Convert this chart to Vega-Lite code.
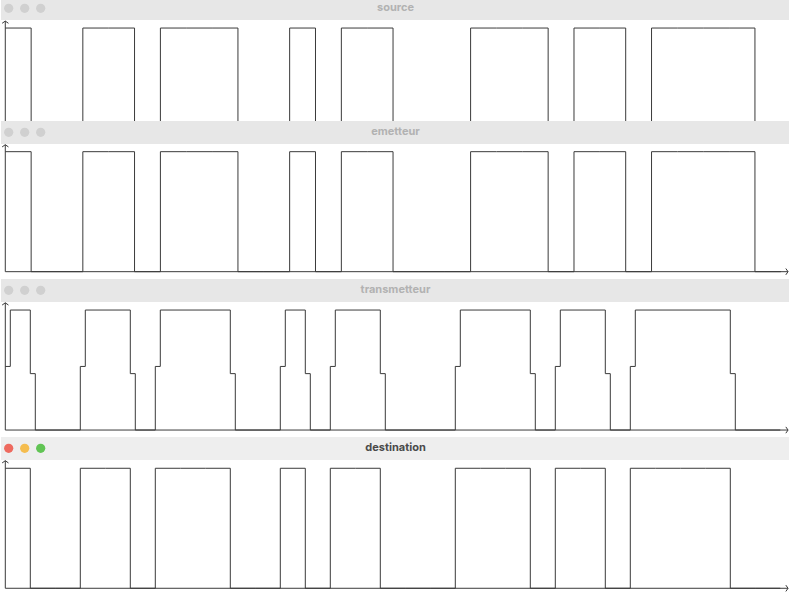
{
  "$schema": "https://vega.github.io/schema/vega-lite/v6.json",
  "padding": 0,
  "spacing": 0,
  "bounds": "flush",
  "background": "white",
  "config": {"view": {"stroke": null}, "concat": {"spacing": 0}},
  "resolve": {"scale": {"x": "independent", "y": "independent", "color": "independent"}},
  "datasets": {
    "windows": [{"window": "source"}, {"window": "emetteur"}, {"window": "transmetteur"}, {"window": "destination"}],
    "buttons": [{"button": "close", "slot": 1}, {"button": "minimize", "slot": 2}, {"button": "zoom", "slot": 3}],
    "signals": [
      {"panel": "source", "t": 0, "v": 1}, {"panel": "source", "t": 1, "v": 0}, {"panel": "source", "t": 2, "v": 0}, {"panel": "source", "t": 3, "v": 1}, {"panel": "source", "t": 4, "v": 1}, {"panel": "source", "t": 5, "v": 0}, {"panel": "source", "t": 6, "v": 1}, {"panel": "source", "t": 7, "v": 1}, {"panel": "source", "t": 8, "v": 1}, {"panel": "source", "t": 9, "v": 0}, {"panel": "source", "t": 10, "v": 0}, {"panel": "source", "t": 11, "v": 1}, {"panel": "source", "t": 12, "v": 0}, {"panel": "source", "t": 13, "v": 1}, {"panel": "source", "t": 14, "v": 1}, {"panel": "source", "t": 15, "v": 0}, {"panel": "source", "t": 16, "v": 0}, {"panel": "source", "t": 17, "v": 0}, {"panel": "source", "t": 18, "v": 1}, {"panel": "source", "t": 19, "v": 1}, {"panel": "source", "t": 20, "v": 1}, {"panel": "source", "t": 21, "v": 0}, {"panel": "source", "t": 22, "v": 1}, {"panel": "source", "t": 23, "v": 1}, {"panel": "source", "t": 24, "v": 0}, {"panel": "source", "t": 25, "v": 1}, {"panel": "source", "t": 26, "v": 1}, {"panel": "source", "t": 27, "v": 1}, {"panel": "source", "t": 28, "v": 1}, {"panel": "source", "t": 29, "v": 0}, {"panel": "source", "t": 30, "v": 0},
      {"panel": "emetteur", "t": 0, "v": 1}, {"panel": "emetteur", "t": 1, "v": 0}, {"panel": "emetteur", "t": 2, "v": 0}, {"panel": "emetteur", "t": 3, "v": 1}, {"panel": "emetteur", "t": 4, "v": 1}, {"panel": "emetteur", "t": 5, "v": 0}, {"panel": "emetteur", "t": 6, "v": 1}, {"panel": "emetteur", "t": 7, "v": 1}, {"panel": "emetteur", "t": 8, "v": 1}, {"panel": "emetteur", "t": 9, "v": 0}, {"panel": "emetteur", "t": 10, "v": 0}, {"panel": "emetteur", "t": 11, "v": 1}, {"panel": "emetteur", "t": 12, "v": 0}, {"panel": "emetteur", "t": 13, "v": 1}, {"panel": "emetteur", "t": 14, "v": 1}, {"panel": "emetteur", "t": 15, "v": 0}, {"panel": "emetteur", "t": 16, "v": 0}, {"panel": "emetteur", "t": 17, "v": 0}, {"panel": "emetteur", "t": 18, "v": 1}, {"panel": "emetteur", "t": 19, "v": 1}, {"panel": "emetteur", "t": 20, "v": 1}, {"panel": "emetteur", "t": 21, "v": 0}, {"panel": "emetteur", "t": 22, "v": 1}, {"panel": "emetteur", "t": 23, "v": 1}, {"panel": "emetteur", "t": 24, "v": 0}, {"panel": "emetteur", "t": 25, "v": 1}, {"panel": "emetteur", "t": 26, "v": 1}, {"panel": "emetteur", "t": 27, "v": 1}, {"panel": "emetteur", "t": 28, "v": 1}, {"panel": "emetteur", "t": 29, "v": 0}, {"panel": "emetteur", "t": 30, "v": 0},
      {"panel": "transmetteur", "t": 0, "v": 0.53}, {"panel": "transmetteur", "t": 0.2, "v": 1}, {"panel": "transmetteur", "t": 1, "v": 0.47}, {"panel": "transmetteur", "t": 1.2, "v": 0},
      {"panel": "transmetteur", "t": 3, "v": 0.53}, {"panel": "transmetteur", "t": 3.2, "v": 1}, {"panel": "transmetteur", "t": 5, "v": 0.47}, {"panel": "transmetteur", "t": 5.2, "v": 0},
      {"panel": "transmetteur", "t": 6, "v": 0.53}, {"panel": "transmetteur", "t": 6.2, "v": 1}, {"panel": "transmetteur", "t": 9, "v": 0.47}, {"panel": "transmetteur", "t": 9.2, "v": 0},
      {"panel": "transmetteur", "t": 11, "v": 0.53}, {"panel": "transmetteur", "t": 11.2, "v": 1}, {"panel": "transmetteur", "t": 12, "v": 0.47}, {"panel": "transmetteur", "t": 12.2, "v": 0},
      {"panel": "transmetteur", "t": 13, "v": 0.53}, {"panel": "transmetteur", "t": 13.2, "v": 1}, {"panel": "transmetteur", "t": 15, "v": 0.47}, {"panel": "transmetteur", "t": 15.2, "v": 0},
      {"panel": "transmetteur", "t": 18, "v": 0.53}, {"panel": "transmetteur", "t": 18.2, "v": 1}, {"panel": "transmetteur", "t": 21, "v": 0.47}, {"panel": "transmetteur", "t": 21.2, "v": 0},
      {"panel": "transmetteur", "t": 22, "v": 0.53}, {"panel": "transmetteur", "t": 22.2, "v": 1}, {"panel": "transmetteur", "t": 24, "v": 0.47}, {"panel": "transmetteur", "t": 24.2, "v": 0},
      {"panel": "transmetteur", "t": 25, "v": 0.53}, {"panel": "transmetteur", "t": 25.2, "v": 1}, {"panel": "transmetteur", "t": 29, "v": 0.47}, {"panel": "transmetteur", "t": 29.2, "v": 0},
      {"panel": "transmetteur", "t": 31, "v": 0},
      {"panel": "destination", "t": 0, "v": 1}, {"panel": "destination", "t": 1, "v": 0}, {"panel": "destination", "t": 2, "v": 0}, {"panel": "destination", "t": 3, "v": 1}, {"panel": "destination", "t": 4, "v": 1}, {"panel": "destination", "t": 5, "v": 0}, {"panel": "destination", "t": 6, "v": 1}, {"panel": "destination", "t": 7, "v": 1}, {"panel": "destination", "t": 8, "v": 1}, {"panel": "destination", "t": 9, "v": 0}, {"panel": "destination", "t": 10, "v": 0}, {"panel": "destination", "t": 11, "v": 1}, {"panel": "destination", "t": 12, "v": 0}, {"panel": "destination", "t": 13, "v": 1}, {"panel": "destination", "t": 14, "v": 1}, {"panel": "destination", "t": 15, "v": 0}, {"panel": "destination", "t": 16, "v": 0}, {"panel": "destination", "t": 17, "v": 0}, {"panel": "destination", "t": 18, "v": 1}, {"panel": "destination", "t": 19, "v": 1}, {"panel": "destination", "t": 20, "v": 1}, {"panel": "destination", "t": 21, "v": 0}, {"panel": "destination", "t": 22, "v": 1}, {"panel": "destination", "t": 23, "v": 1}, {"panel": "destination", "t": 24, "v": 0}, {"panel": "destination", "t": 25, "v": 1}, {"panel": "destination", "t": 26, "v": 1}, {"panel": "destination", "t": 27, "v": 1}, {"panel": "destination", "t": 28, "v": 1}, {"panel": "destination", "t": 29, "v": 0}, {"panel": "destination", "t": 30, "v": 0}, {"panel": "destination", "t": 31, "v": 0}
    ]
  },
  "vconcat": [
    {
      "width": 789, "height": 20,
      "view": {"fill": "#e7e7e7", "stroke": null},
      "layer": [
        {"data": {"name": "buttons"}, "mark": {"type": "point", "filled": true, "size": 85, "opacity": 1},
         "encoding": {"x": {"field": "slot", "type": "quantitative", "scale": {"domain": [0.52, 49.83], "nice": false, "zero": false}, "axis": null},
           "y": {"datum": 11.7, "type": "quantitative", "scale": {"domain": [0, 20], "nice": false, "zero": false}, "axis": null},
           "color": {"value": "#d0d0d0"}}},
        {"data": {"name": "windows"}, "transform": [{"filter": "datum.window == 'source'"}],
         "mark": {"type": "text", "font": "Inter", "fontWeight": "bold", "fontSize": 11, "color": "#b2b2b2", "baseline": "middle", "align": "center"},
         "encoding": {"x": {"datum": 25.175, "type": "quantitative"}, "y": {"datum": 11.7, "type": "quantitative"}, "text": {"field": "window"}}}
      ]
    },
    {
      "width": 789, "height": 101,
      "layer": [
        {"data": {"name": "signals"}, "transform": [{"filter": "datum.panel == 'source'"}],
         "mark": {"type": "line", "interpolate": "step-after", "color": "#3a3a3a", "strokeWidth": 1, "clip": true},
         "encoding": {
           "x": {"field": "t", "type": "quantitative", "scale": {"domain": [-0.166, 30.356], "nice": false, "zero": false}, "axis": null},
           "y": {"field": "v", "type": "quantitative", "scale": {"domain": [0.225, 1.067], "nice": false, "zero": false}, "axis": null}}},
        {"data": {"values": [{}]}, "mark": {"type": "rule", "color": "#3a3a3a", "clip": true},
         "encoding": {"x": {"datum": 0}, "y": {"datum": 0}, "y2": {"datum": 1.058}}},
        {"data": {"values": [{}]}, "mark": {"type": "point", "shape": "M-1,0.7L0,0L1,0.7", "filled": false, "size": 40, "opacity": 1, "color": "#3a3a3a", "strokeWidth": 1},
         "encoding": {"x": {"datum": 0}, "y": {"datum": 1.058}}}
      ]
    },
    {
      "width": 789, "height": 23,
      "view": {"fill": "#e7e7e7", "stroke": null},
      "layer": [
        {"data": {"name": "buttons"}, "mark": {"type": "point", "filled": true, "size": 85, "opacity": 1},
         "encoding": {"x": {"field": "slot", "type": "quantitative", "scale": {"domain": [0.52, 49.83], "nice": false, "zero": false}, "axis": null},
           "y": {"datum": 11.7, "type": "quantitative", "scale": {"domain": [0, 23], "nice": false, "zero": false}, "axis": null},
           "color": {"value": "#d0d0d0"}}},
        {"data": {"name": "windows"}, "transform": [{"filter": "datum.window == 'emetteur'"}],
         "mark": {"type": "text", "font": "Inter", "fontWeight": "bold", "fontSize": 11, "color": "#b2b2b2", "baseline": "middle", "align": "center"},
         "encoding": {"x": {"datum": 25.175, "type": "quantitative"}, "y": {"datum": 11.7, "type": "quantitative"}, "text": {"field": "window"}}}
      ]
    },
    {
      "width": 789, "height": 135,
      "layer": [
        {"data": {"name": "signals"}, "transform": [{"filter": "datum.panel == 'emetteur'"}],
         "mark": {"type": "line", "interpolate": "step-after", "color": "#3a3a3a", "strokeWidth": 1, "clip": true},
         "encoding": {
           "x": {"field": "t", "type": "quantitative", "scale": {"domain": [-0.166, 30.356], "nice": false, "zero": false}, "axis": null},
           "y": {"field": "v", "type": "quantitative", "scale": {"domain": [-0.061, 1.064], "nice": false, "zero": false}, "axis": null}}},
        {"data": {"values": [{}]}, "mark": {"type": "rule", "color": "#3a3a3a"},
         "encoding": {"x": {"datum": 0}, "y": {"datum": 0}, "y2": {"datum": 1.058}}},
        {"data": {"values": [{}]}, "mark": {"type": "rule", "color": "#3a3a3a"},
         "encoding": {"x": {"datum": 0}, "x2": {"datum": 30.28}, "y": {"datum": 0}}},
        {"data": {"values": [{}]}, "mark": {"type": "point", "shape": "M-1,0.7L0,0L1,0.7", "filled": false, "size": 40, "opacity": 1, "color": "#3a3a3a", "strokeWidth": 1},
         "encoding": {"x": {"datum": 0}, "y": {"datum": 1.058}}},
        {"data": {"values": [{}]}, "mark": {"type": "point", "shape": "M-0.7,-1L0,0L-0.7,1", "filled": false, "size": 40, "opacity": 1, "color": "#3a3a3a", "strokeWidth": 1},
         "encoding": {"x": {"datum": 30.28}, "y": {"datum": 0}}}
      ]
    },
    {
      "width": 789, "height": 23,
      "view": {"fill": "#e7e7e7", "stroke": null},
      "layer": [
        {"data": {"name": "buttons"}, "mark": {"type": "point", "filled": true, "size": 85, "opacity": 1},
         "encoding": {"x": {"field": "slot", "type": "quantitative", "scale": {"domain": [0.52, 49.83], "nice": false, "zero": false}, "axis": null},
           "y": {"datum": 11.7, "type": "quantitative", "scale": {"domain": [0, 23], "nice": false, "zero": false}, "axis": null},
           "color": {"value": "#d0d0d0"}}},
        {"data": {"name": "windows"}, "transform": [{"filter": "datum.window == 'transmetteur'"}],
         "mark": {"type": "text", "font": "Inter", "fontWeight": "bold", "fontSize": 11, "color": "#b2b2b2", "baseline": "middle", "align": "center"},
         "encoding": {"x": {"datum": 25.175, "type": "quantitative"}, "y": {"datum": 11.7, "type": "quantitative"}, "text": {"field": "window"}}}
      ]
    },
    {
      "width": 789, "height": 135,
      "layer": [
        {"data": {"name": "signals"}, "transform": [{"filter": "datum.panel == 'transmetteur'"}],
         "mark": {"type": "line", "interpolate": "step-after", "color": "#3a3a3a", "strokeWidth": 1, "clip": true},
         "encoding": {
           "x": {"field": "t", "type": "quantitative", "scale": {"domain": [-0.172, 31.388], "nice": false, "zero": false}, "axis": null},
           "y": {"field": "v", "type": "quantitative", "scale": {"domain": [-0.058, 1.067], "nice": false, "zero": false}, "axis": null}}},
        {"data": {"values": [{}]}, "mark": {"type": "rule", "color": "#3a3a3a"},
         "encoding": {"x": {"datum": 0}, "y": {"datum": 0}, "y2": {"datum": 1.06}}},
        {"data": {"values": [{}]}, "mark": {"type": "rule", "color": "#3a3a3a"},
         "encoding": {"x": {"datum": 0}, "x2": {"datum": 31.31}, "y": {"datum": 0}}},
        {"data": {"values": [{}]}, "mark": {"type": "point", "shape": "M-1,0.7L0,0L1,0.7", "filled": false, "size": 40, "opacity": 1, "color": "#3a3a3a", "strokeWidth": 1},
         "encoding": {"x": {"datum": 0}, "y": {"datum": 1.06}}},
        {"data": {"values": [{}]}, "mark": {"type": "point", "shape": "M-0.7,-1L0,0L-0.7,1", "filled": false, "size": 40, "opacity": 1, "color": "#3a3a3a", "strokeWidth": 1},
         "encoding": {"x": {"datum": 31.31}, "y": {"datum": 0}}}
      ]
    },
    {
      "width": 789, "height": 23,
      "view": {"fill": "#eeeeee", "stroke": null},
      "layer": [
        {"data": {"name": "buttons"}, "mark": {"type": "point", "filled": true, "size": 85, "opacity": 1},
         "encoding": {"x": {"field": "slot", "type": "quantitative", "scale": {"domain": [0.52, 49.83], "nice": false, "zero": false}, "axis": null},
           "y": {"datum": 11.7, "type": "quantitative", "scale": {"domain": [0, 23], "nice": false, "zero": false}, "axis": null},
           "color": {"field": "button", "type": "nominal", "scale": {"domain": ["close", "minimize", "zoom"], "range": ["#ee6a5f", "#f5bd4f", "#61c454"]}, "legend": null}}},
        {"data": {"name": "windows"}, "transform": [{"filter": "datum.window == 'destination'"}],
         "mark": {"type": "text", "font": "Inter", "fontWeight": "bold", "fontSize": 11, "color": "#4a4a4a", "baseline": "middle", "align": "center"},
         "encoding": {"x": {"datum": 25.175, "type": "quantitative"}, "y": {"datum": 11.7, "type": "quantitative"}, "text": {"field": "window"}}}
      ]
    },
    {
      "width": 789, "height": 135,
      "layer": [
        {"data": {"name": "signals"}, "transform": [{"filter": "datum.panel == 'destination'"}],
         "mark": {"type": "line", "interpolate": "step-after", "color": "#3a3a3a", "strokeWidth": 1, "clip": true},
         "encoding": {
           "x": {"field": "t", "type": "quantitative", "scale": {"domain": [-0.172, 31.388], "nice": false, "zero": false}, "axis": null},
           "y": {"field": "v", "type": "quantitative", "scale": {"domain": [-0.056, 1.069], "nice": false, "zero": false}, "axis": null}}},
        {"data": {"values": [{}]}, "mark": {"type": "rule", "color": "#3a3a3a"},
         "encoding": {"x": {"datum": 0}, "y": {"datum": 0}, "y2": {"datum": 1.063}}},
        {"data": {"values": [{}]}, "mark": {"type": "rule", "color": "#3a3a3a"},
         "encoding": {"x": {"datum": 0}, "x2": {"datum": 31.31}, "y": {"datum": 0}}},
        {"data": {"values": [{}]}, "mark": {"type": "point", "shape": "M-1,0.7L0,0L1,0.7", "filled": false, "size": 40, "opacity": 1, "color": "#3a3a3a", "strokeWidth": 1},
         "encoding": {"x": {"datum": 0}, "y": {"datum": 1.063}}},
        {"data": {"values": [{}]}, "mark": {"type": "point", "shape": "M-0.7,-1L0,0L-0.7,1", "filled": false, "size": 40, "opacity": 1, "color": "#3a3a3a", "strokeWidth": 1},
         "encoding": {"x": {"datum": 31.31}, "y": {"datum": 0}}}
      ]
    }
  ]
}
